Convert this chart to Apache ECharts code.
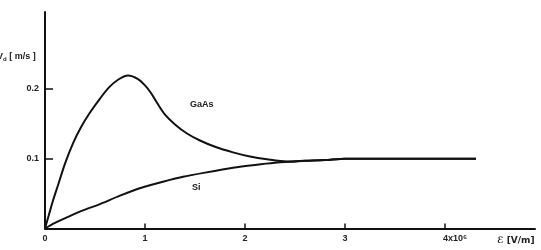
<!DOCTYPE html>
<html>
<head>
<meta charset="utf-8">
<script src="https://cdn.jsdelivr.net/npm/echarts@6/dist/echarts.min.js"></script>
<style>
    html, body { margin: 0; padding: 0; background: #fff; }
    #chart { width: 541px; height: 250px; }
</style>
</head>
<body>
<div id="chart"></div>
<script>
    // 数据 (x: 电场, 单位 10^6 V/m ; y: 漂移速度)
    var gaasX = [0, 0.04, 0.08, 0.13, 0.2, 0.28, 0.36, 0.45, 0.55, 0.64, 0.73, 0.83, 0.93, 1.0, 1.06, 1.12, 1.2, 1.3, 1.42, 1.55, 1.7, 1.88, 2.05, 2.22, 2.42, 2.6, 2.8, 3.0, 3.3, 3.8, 4.31];
    var gaasV = [0, 0.02, 0.04, 0.062, 0.093, 0.122, 0.145, 0.166, 0.186, 0.202, 0.213, 0.219, 0.214, 0.205, 0.194, 0.18, 0.163, 0.149, 0.136, 0.126, 0.117, 0.109, 0.103, 0.099, 0.096, 0.097, 0.098, 0.1, 0.1, 0.1, 0.1];
    var siX = [0, 0.1, 0.22, 0.38, 0.55, 0.75, 0.98, 1.18, 1.38, 1.6, 1.88, 2.1, 2.3, 2.5, 2.6, 2.8, 3.0, 3.3, 3.8, 4.31];
    var siV = [0, 0.008, 0.016, 0.026, 0.035, 0.047, 0.059, 0.067, 0.074, 0.08, 0.087, 0.091, 0.094, 0.096, 0.097, 0.098, 0.1, 0.1, 0.1, 0.1];
    var xTicks = [0, 1, 2, 3, 4];
    var yTicks = [0.1, 0.2];

    function pairs(xs, ys) {
        var out = [];
        for (var i = 0; i < xs.length; i++) out.push([xs[i], ys[i]]);
        return out;
    }

    var myChart = echarts.init(document.getElementById('chart'));
    var option = {
        animation: false,
        grid: { left: 45, right: 6, top: 12, bottom: 21.5 },
        xAxis: {
            type: 'value',
            min: 0,
            max: 4.9,
            splitLine: { show: false },
            axisLine: { lineStyle: { color: '#111', width: 2 } },
            axisTick: { inside: true, length: 5, customValues: [1, 2, 3, 4], lineStyle: { color: '#111', width: 1.5 } },
            axisLabel: {
                customValues: xTicks,
                margin: 6,
                formatter: function (v) { return v === 4 ? '{a|4x10⁶}' : '' + v; },
                rich: { a: { fontFamily: 'Liberation Sans', fontWeight: 'bold', fontSize: 9, color: '#222', padding: [0, 0, 0, 20] } },
                fontFamily: 'Liberation Sans', fontWeight: 'bold', fontSize: 9, color: '#222'
            }
        },
        yAxis: {
            type: 'value',
            min: 0,
            max: 0.31,
            splitLine: { show: false },
            axisLine: { lineStyle: { color: '#111', width: 2 } },
            axisTick: { inside: true, length: 8, customValues: yTicks, lineStyle: { color: '#111', width: 1.5 } },
            axisLabel: {
                customValues: yTicks,
                margin: 6,
                formatter: function (v) { return v.toFixed(1); },
                fontFamily: 'Liberation Sans', fontWeight: 'bold', fontSize: 9, color: '#222'
            }
        },
        graphic: [
            { type: 'text', left: -3, top: 52, style: { text: 'V{s|d} [ m/s ]', rich: { s: { fontSize: 6, fontWeight: 'bold', fontFamily: 'Liberation Sans', padding: [5, 0, 0, 0] } }, font: 'bold 9px "Liberation Sans"', fill: '#222' } },
            { type: 'text', left: 497, top: 236, style: { text: 'ℰ [V/m]', font: 'bold 9px "DejaVu Sans"', fill: '#222' } },
            { type: 'text', left: 190, top: 100, style: { text: 'GaAs', font: 'bold 9px "Liberation Sans"', fill: '#222' } },
            { type: 'text', left: 192, top: 183, style: { text: 'Si', font: 'bold 9px "Liberation Sans"', fill: '#222' } }
        ],
        series: [
            {
                name: 'GaAs', type: 'line', smooth: 0.3, showSymbol: false,
                lineStyle: { color: '#111', width: 2 }, data: pairs(gaasX, gaasV)
            },
            {
                name: 'Si', type: 'line', smooth: 0.25, showSymbol: false,
                lineStyle: { color: '#111', width: 2 }, data: pairs(siX, siV)
            }
        ]
    };
    myChart.setOption(option);
</script>
</body>
</html>
